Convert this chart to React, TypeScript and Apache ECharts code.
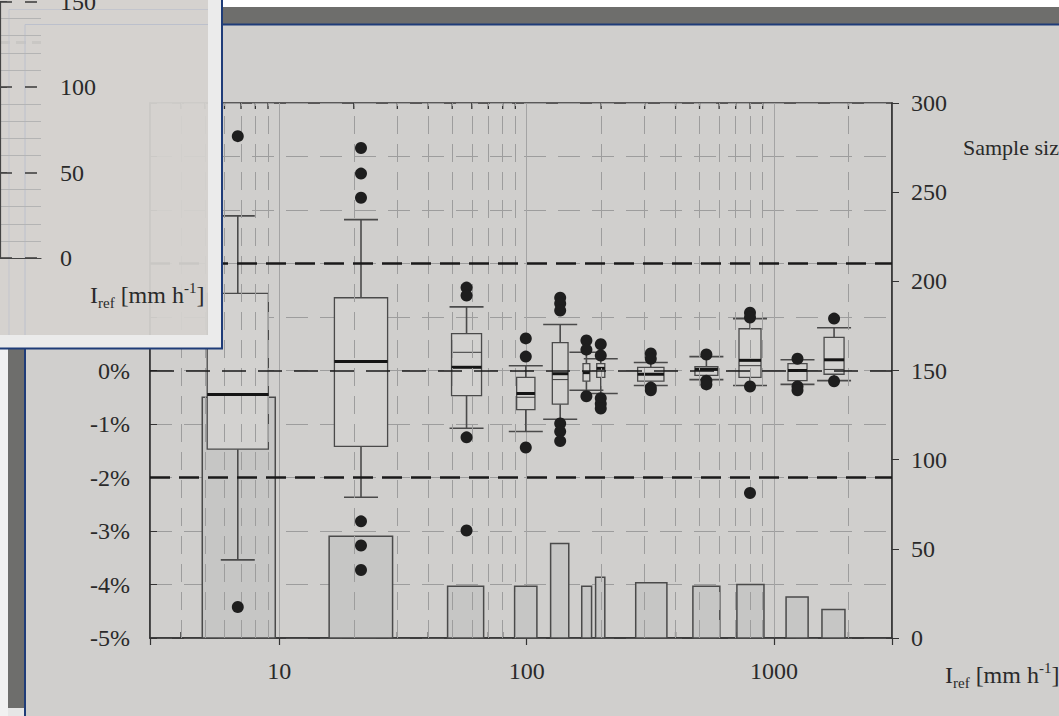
import { useEffect, useRef } from 'react';
import * as echarts from 'echarts';

// Intensity bins (mm/h) of the sample-size bars and their counts
const binLow = [4.88, 15.9, 47.9, 89.4, 125, 167, 190, 276, 470, 708, 1119, 1563];
const binHigh = [9.63, 28.7, 67.0, 110, 148, 183, 207, 369, 604, 911, 1374, 1936];
const sampleSize = [135, 57, 29, 29, 53, 29, 34, 31, 29, 30, 23, 16];

// Box extents along the intensity axis (mm/h)
const boxLow = [5.11, 16.7, 49.7, 91.1, 127, 169, 192, 281, 479, 722, 1139, 1594];
const boxHigh = [9.03, 27.4, 65.7, 108, 147, 180, 207, 359, 593, 886, 1360, 1920];

// Relative deviation statistics (%)
const whiskerLow = [-3.54, -2.37, -1.08, -1.14, -0.91, -0.37, -0.43, -0.28, -0.17, -0.28, -0.26, -0.19];
const quartile1 = [-1.47, -1.42, -0.47, -0.73, -0.63, -0.2, -0.13, -0.2, -0.09, -0.13, -0.19, -0.07];
const median = [-0.45, 0.17, 0.06, -0.43, -0.06, -0.04, 0.04, -0.07, 0.02, 0.19, 0.0, 0.2];
const quartile3 = [1.44, 1.36, 0.69, -0.13, 0.52, 0.13, 0.13, 0.06, 0.07, 0.78, 0.13, 0.62];
const whiskerHigh = [2.89, 2.82, 1.19, 0.09, 0.86, 0.34, 0.22, 0.15, 0.26, 0.97, 0.2, 0.8];
const mean = [null, null, 0.34, -0.5, -0.17, null, null, null, null, 0.09, null, 0.02];
const outliers = [
  [4.38, -4.42],
  [4.16, 3.68, 3.23, -2.82, -3.27, -3.73],
  [1.55, 1.4, -1.25, -2.99],
  [0.6, 0.26, -1.44],
  [1.36, 1.25, 1.12, -0.99, -1.14, -1.32],
  [0.56, 0.39, -0.48],
  [0.49, 0.28, -0.52, -0.62, -0.71],
  [0.32, 0.22, -0.32, -0.37],
  [0.3, -0.19, -0.26],
  [1.08, 0.99, -0.3, -2.29],
  [0.22, -0.3, -0.37],
  [0.97, -0.2],
];

// Reference deviation lines (%)
const refLines = [2, 0, -2];
// Intermediate decade values for the minor grid
const minorGrid = [4, 5, 6, 7, 8, 9, 20, 30, 40, 50, 60, 70, 80, 90, 200, 300, 400, 500, 600, 700, 800, 900, 2000];
// Second panel: its own reference line on the sample-size scale
const insetRefLine = [126];

const FONT = 'Liberation Serif';
const INK = '#2a2a2a';
const BG = '#d0cfcd';
const FS = 24;

const richName = {
  m: { fontSize: FS, fontFamily: FONT, color: INK, lineHeight: 30 },
  sub: { fontSize: 15, fontFamily: FONT, color: INK, lineHeight: 13, verticalAlign: 'bottom' },
  sup: { fontSize: 15, fontFamily: FONT, color: INK, lineHeight: 13, verticalAlign: 'top' },
};
const axisName = '{m|I}{sub|ref}{m| [mm h}{sup|-1}{m|]}';

export default function App() {
  const ref = useRef<HTMLDivElement>(null);

  useEffect(() => {
    if (!ref.current) return;
    const chart = echarts.init(ref.current, undefined, { renderer: 'svg' });

    const boxData = boxLow.map((lo, i) => [
      lo,
      boxHigh[i],
      whiskerLow[i],
      quartile1[i],
      median[i],
      quartile3[i],
      whiskerHigh[i],
      mean[i] == null ? NaN : mean[i],
    ]);
    const barData = binLow.map((lo, i) => [lo, binHigh[i], sampleSize[i]]);
    const dotData = outliers.flatMap((ys, i) =>
      ys.map((y) => [Math.sqrt(boxLow[i] * boxHigh[i]), y])
    );

    const labelStyle = { fontFamily: FONT, fontSize: FS, color: INK };

    const option: any = {
      animation: false,
      backgroundColor: BG,
      grid: [
        {
          left: 150, right: 167, top: 103, bottom: 78, outerBoundsMode: 'none',
          show: true, borderColor: '#333', borderWidth: 1.5, backgroundColor: 'transparent',
        },
        { left: 0, top: 1.5, width: 41, height: 256.5, show: false, outerBoundsMode: 'none' },
      ],
      xAxis: [
        {
          type: 'log', logBase: 10, min: 3, max: 3000, gridIndex: 0,
          axisLine: { show: true, onZero: false, lineStyle: { color: '#333', width: 1.5 } },
          axisTick: { show: true, length: 7, lineStyle: { color: '#333', width: 1.2 } },
          axisLabel: {
            ...labelStyle, margin: 21,
            formatter: (v: number) => {
              const e = Math.log10(v);
              return Math.abs(e - Math.round(e)) < 1e-6 ? String(Math.round(Math.pow(10, Math.round(e)))) : '';
            },
          },
          splitLine: { show: true, lineStyle: { color: '#a4a4a4', width: 1 } },
          name: axisName, nameLocation: 'end', nameGap: 53,
          nameTextStyle: { ...labelStyle, padding: [74, 0, 0, 0], rich: richName },
        },
        {
          type: 'value', gridIndex: 1, min: 0, max: 1, z: 60,
          axisLine: { show: true, onZero: false, lineStyle: { color: '#444', width: 1.2 } },
          axisTick: { show: false }, axisLabel: { show: false }, splitLine: { show: false },
          name: axisName, nameLocation: 'end', nameGap: 49,
          nameTextStyle: { ...labelStyle, padding: [74, 0, 0, 0], rich: richName },
        },
      ],
      yAxis: [
        {
          type: 'value', gridIndex: 0, min: -5, max: 5, interval: 1,
          axisLine: { show: true, lineStyle: { color: '#333', width: 1.5 } },
          axisTick: { show: true, inside: true, length: 7, lineStyle: { color: '#333' } },
          axisLabel: { ...labelStyle, margin: 20, formatter: (v: number) => (v > 0 ? '' : `${v}%`) },
          splitLine: { show: true, lineStyle: { color: '#9d9d9d', width: 1, type: [22, 12] } },
        },
        {
          type: 'value', gridIndex: 0, position: 'right', min: 0, max: 300, interval: 50,
          axisLine: { show: true, lineStyle: { color: '#333', width: 1.5 } },
          axisTick: { show: true, length: 7, lineStyle: { color: '#333' } },
          axisLabel: { ...labelStyle, margin: 19 },
          splitLine: { show: false },
        },
        {
          type: 'value', gridIndex: 1, position: 'right', min: 0, max: 150, interval: 50, z: 60,
          axisLine: { show: true, lineStyle: { color: '#444', width: 1.2 } },
          axisTick: { show: true, length: 7, lineStyle: { color: '#444' } },
          axisLabel: { ...labelStyle, margin: 19 },
          splitLine: { show: true, lineStyle: { color: '#3a3a3a', width: 1.5, type: [12, 13] } },
          minorTick: { show: false },
          minorSplitLine: { show: true, lineStyle: { color: '#b4b4b4', width: 1 } },
        },
      ],
      graphic: {
        elements: [
          // slide frame around the figure
          { type: 'rect', silent: true, z: 1, shape: { x: 222, y: 0, width: 837, height: 7 }, style: { fill: '#ffffff' } },
          { type: 'rect', silent: true, z: 1, shape: { x: 222, y: 7, width: 837, height: 17 }, style: { fill: '#6e6e6c' } },
          { type: 'line', silent: true, z: 1, shape: { x1: 222, y1: 24.5, x2: 1059, y2: 24.5 }, style: { stroke: '#1f3c78', lineWidth: 2 } },
          { type: 'rect', silent: true, z: 1, shape: { x: 0, y: 348, width: 8, height: 368 }, style: { fill: '#f1f1f1' } },
          { type: 'rect', silent: true, z: 1, shape: { x: 8, y: 349, width: 16, height: 359 }, style: { fill: '#6e6e6c' } },
          { type: 'rect', silent: true, z: 1, shape: { x: 8, y: 708, width: 16, height: 8 }, style: { fill: '#e6e6e6' } },
          { type: 'line', silent: true, z: 1, shape: { x1: 25, y1: 348, x2: 25, y2: 716 }, style: { stroke: '#1f3c78', lineWidth: 2 } },
          // second panel backdrop
          { type: 'rect', silent: true, z: 50, shape: { x: 0, y: 0, width: 208, height: 335 }, style: { fill: '#d5d2cf', opacity: 0.94 } },
          { type: 'rect', silent: true, z: 50, shape: { x: 208, y: 0, width: 14, height: 348 }, style: { fill: '#ebebeb' } },
          { type: 'rect', silent: true, z: 50, shape: { x: 0, y: 335, width: 208, height: 13 }, style: { fill: '#ebebeb' } },
          { type: 'polyline', silent: true, z: 51, shape: { points: [[9, 335], [9, 9.5], [208, 9.5]] }, style: { stroke: '#c3c5cd', lineWidth: 1, fill: 'none' } },
          { type: 'polyline', silent: true, z: 51, shape: { points: [[25, 335], [25, 24.5], [208, 24.5]] }, style: { stroke: '#bcc0cc', lineWidth: 1, fill: 'none' } },
          { type: 'polyline', silent: true, z: 61, shape: { points: [[222, 0], [222, 348.5], [0, 348.5]] }, style: { stroke: '#1f3c78', lineWidth: 2, fill: 'none' } },
          // right-axis title
          {
            type: 'text', silent: true, z: 5, x: 963, y: 147,
            style: { text: 'Sample size', fontFamily: FONT, fontSize: 22, fill: INK, verticalAlign: 'middle' },
          },
        ],
      },
      series: [
        {
          // minor ticks and minor vertical grid
          type: 'custom', xAxisIndex: 0, yAxisIndex: 0, z: 1, silent: true,
          data: minorGrid.map((v) => [v, 0]),
          encode: { x: 0, y: 1 },
          renderItem: (params: any, api: any) => {
            const cs = params.coordSys;
            const x = api.coord([api.value(0), 0])[0];
            return {
              type: 'group',
              children: [
                { type: 'line', shape: { x1: x, y1: cs.y, x2: x, y2: cs.y + 6 }, style: { stroke: '#333', lineWidth: 1.3 } },
                { type: 'line', shape: { x1: x, y1: cs.y + cs.height, x2: x, y2: cs.y + cs.height - 6 }, style: { stroke: '#333', lineWidth: 1.3 } },
              ],
            };
          },
          markLine: {
            silent: true, symbol: 'none', label: { show: false },
            lineStyle: { color: '#9d9d9d', width: 1, type: [18, 10] },
            data: minorGrid.map((v) => ({ xAxis: v })),
          },
        },
        {
          // sample size bars
          type: 'custom', xAxisIndex: 0, yAxisIndex: 1, z: 3, silent: true,
          data: barData,
          encode: { x: [0, 1], y: 2 },
          renderItem: (_p: any, api: any) => {
            const a = api.coord([api.value(0), api.value(2)]);
            const b = api.coord([api.value(1), 0]);
            return {
              type: 'rect',
              shape: { x: a[0], y: a[1], width: b[0] - a[0], height: b[1] - a[1] },
              style: { fill: '#c6c6c5', stroke: '#4a4a4a', lineWidth: 1.5 },
            };
          },
        },
        {
          // reference deviation lines
          type: 'line', xAxisIndex: 0, yAxisIndex: 0, z: 3.5, data: [], silent: true,
          markLine: {
            silent: true, symbol: 'none', label: { show: false },
            data: refLines.map((v) => ({
              yAxis: v,
              lineStyle: v === 0
                ? { color: '#1a1a1a', width: 1.5, type: [24, 12] }
                : { color: '#1a1a1a', width: 2.6, type: [20, 9] },
            })),
          },
        },
        {
          // box plots
          type: 'custom', xAxisIndex: 0, yAxisIndex: 0, z: 4, silent: true,
          data: boxData,
          encode: { x: [0, 1], y: [2, 6] },
          renderItem: (_p: any, api: any) => {
            const x0 = api.coord([api.value(0), 0])[0];
            const x1 = api.coord([api.value(1), 0])[0];
            const xc = (x0 + x1) / 2;
            const y = (v: number) => api.coord([api.value(0), v])[1];
            const wl = y(api.value(2));
            const q1 = y(api.value(3));
            const md = y(api.value(4));
            const q3 = y(api.value(5));
            const wh = y(api.value(6));
            const mv = api.value(7);
            const stroke = '#4a4a4a';
            const cap = 17;
            const children: any[] = [
              { type: 'line', shape: { x1: xc, y1: q3, x2: xc, y2: wh }, style: { stroke, lineWidth: 1.6 } },
              { type: 'line', shape: { x1: xc, y1: q1, x2: xc, y2: wl }, style: { stroke, lineWidth: 1.6 } },
              { type: 'line', shape: { x1: xc - cap, y1: wh, x2: xc + cap, y2: wh }, style: { stroke, lineWidth: 1.6 } },
              { type: 'line', shape: { x1: xc - cap, y1: wl, x2: xc + cap, y2: wl }, style: { stroke, lineWidth: 1.6 } },
              { type: 'rect', shape: { x: x0, y: q3, width: x1 - x0, height: q1 - q3 }, style: { fill: '#d3d2d0', stroke, lineWidth: 1.3 } },
            ];
            if (!isNaN(mv)) {
              const ym = y(mv);
              children.push({ type: 'line', shape: { x1: x0, y1: ym, x2: x1, y2: ym }, style: { stroke: '#3a3a3a', lineWidth: 1 } });
            }
            children.push({ type: 'line', shape: { x1: x0, y1: md, x2: x1, y2: md }, style: { stroke: '#151515', lineWidth: 3 } });
            return { type: 'group', children };
          },
        },
        {
          // outliers
          type: 'scatter', xAxisIndex: 0, yAxisIndex: 0, z: 5, silent: true,
          symbol: 'circle', symbolSize: 12,
          itemStyle: { color: '#1e1e1e', opacity: 1 },
          data: dotData,
        },
        {
          // second panel reference line
          type: 'line', xAxisIndex: 1, yAxisIndex: 2, z: 60, data: [], silent: true,
          markLine: {
            silent: true, symbol: 'none', label: { show: false },
            lineStyle: { color: '#1a1a1a', width: 3, type: [10, 6] },
            data: insetRefLine.map((v) => ({ yAxis: v })),
          },
        },
      ],
    };

    chart.setOption(option);
    return () => chart.dispose();
  }, []);

  return (
    <div
      ref={ref}
      style={{ position: 'fixed', left: 0, top: 0, width: 1059, height: 716 }}
    />
  );
}
